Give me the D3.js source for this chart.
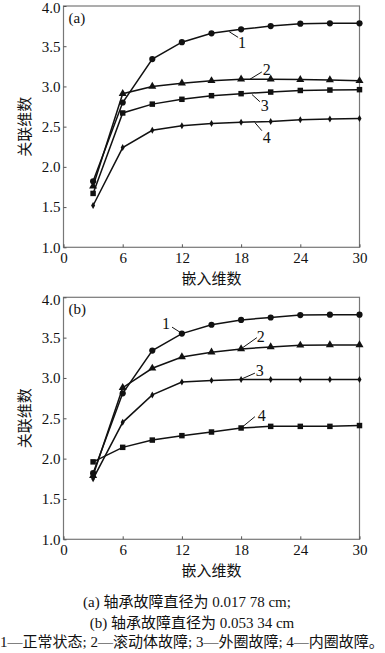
<!DOCTYPE html>
<html>
<head>
<meta charset="utf-8">
<script src="https://cdn.jsdelivr.net/npm/d3@7"></script>
<style>
  body { margin: 0; background: #fff; }
  svg { display: block; }
  text { font-family: "Liberation Serif", "Noto Sans CJK SC", serif; fill: #111; }
</style>
</head>
<body>
<div id="chart"></div>
<script>
// embedding dimension
const xVals = [3, 6, 9, 12, 15, 18, 21, 24, 27, 30];
const xTicks = [0, 6, 12, 18, 24, 30];
const yTicks = [1.0, 1.5, 2.0, 2.5, 3.0, 3.5, 4.0];

// (a) 0.017 78 cm
const a1 = [1.82, 2.80, 3.34, 3.55, 3.66, 3.71, 3.75, 3.78, 3.785, 3.785];
const a2 = [1.76, 2.91, 3.00, 3.04, 3.07, 3.09, 3.09, 3.085, 3.08, 3.07];
const a3 = [1.67, 2.67, 2.78, 2.84, 2.885, 2.91, 2.93, 2.95, 2.955, 2.96];
const a4 = [1.52, 2.24, 2.455, 2.51, 2.54, 2.555, 2.565, 2.585, 2.595, 2.60];

// (b) 0.053 34 cm
const b1 = [1.82, 2.81, 3.34, 3.55, 3.66, 3.72, 3.75, 3.78, 3.785, 3.785];
const b2 = [1.79, 2.88, 3.12, 3.26, 3.32, 3.36, 3.385, 3.405, 3.41, 3.41];
const b3 = [1.75, 2.45, 2.79, 2.95, 2.97, 2.98, 2.98, 2.98, 2.98, 2.98];
const b4 = [1.96, 2.14, 2.23, 2.285, 2.33, 2.38, 2.40, 2.40, 2.40, 2.41];

const captions = [
  "(a) 轴承故障直径为 0.017 78 cm;",
  "(b) 轴承故障直径为 0.053 34 cm",
  "1—正常状态; 2—滚动体故障; 3—外圈故障; 4—内圈故障。"
];

const W = 385, H = 653;
const svg = d3.select("#chart").append("svg")
  .attr("width", W).attr("height", H);

const left = 63.5, right = 359.5;

const x = d3.scaleLinear().domain([0, 30]).range([left, right]);

const symbols = {
  circle: d3.symbol().type(d3.symbolCircle).size(30),
  triangle: d3.symbol().type(d3.symbolTriangle).size(28),
  square: d3.symbol().type(d3.symbolSquare).size(30),
  star: d3.symbol().type(d3.symbolDiamond).size(14)
};

function drawPanel(top, bottom, series, tag, notes) {
  const y = d3.scaleLinear().domain([1, 4]).range([bottom, top]);
  const g = svg.append("g");

  // frame
  g.append("rect")
    .attr("x", left).attr("y", top)
    .attr("width", right - left).attr("height", bottom - top)
    .attr("fill", "none").attr("stroke", "#777").attr("stroke-width", 1.2);

  // axes with inward ticks
  const xa = g.append("g").attr("transform", `translate(0,${bottom})`)
    .call(d3.axisBottom(x).tickValues(xTicks).tickSize(-3).tickPadding(4).tickFormat(d3.format("d")));
  const ya = g.append("g").attr("transform", `translate(${left},0)`)
    .call(d3.axisLeft(y).tickValues(yTicks).tickSize(-3).tickPadding(3).tickFormat(d3.format(".1f")));
  [xa, ya].forEach(a => {
    a.select(".domain").remove();
    a.selectAll("line").attr("stroke", "#555");
    a.selectAll("text").style("font-size", "15px").attr("fill", "#111")
      .style("font-family", "Liberation Serif, serif");
  });
  xa.selectAll("text").attr("dy", "0.75em");
  // keep the top label inside the page
  ya.selectAll("text").filter(d => d === 4).attr("dy", "0.45em");

  const line = d3.line().x((d, i) => x(xVals[i])).y(d => y(d));

  series.forEach(s => {
    g.append("path").datum(s.values)
      .attr("d", line).attr("fill", "none")
      .attr("stroke", "#111").attr("stroke-width", 1.5);
    g.selectAll(null).data(s.values).enter().append("path")
      .attr("d", symbols[s.marker])
      .attr("transform", (d, i) => `translate(${x(xVals[i])},${y(d)})`)
      .attr("fill", "#111");
  });

  // series labels with leaders
  notes.forEach(n => {
    g.append("line")
      .attr("x1", x(n.x0)).attr("y1", y(n.y0))
      .attr("x2", x(n.x1)).attr("y2", y(n.y1))
      .attr("stroke", "#111").attr("stroke-width", 1);
    g.append("text").attr("x", x(n.tx)).attr("y", y(n.ty))
      .attr("text-anchor", "middle").attr("dy", "0.35em")
      .style("font-size", "16px").text(n.label);
  });

  g.append("text").attr("x", left + 5).attr("y", top + 12)
    .attr("dy", "0.3em").style("font-size", "15px").text(tag);

  g.append("text")
    .attr("transform", `translate(25,${(top + bottom) / 2}) rotate(-90)`)
    .attr("text-anchor", "middle").attr("dy", "0.35em")
    .style("font-size", "15px").style("font-family", "Noto Sans CJK SC")
    .text("关联维数");

  g.append("text").attr("x", (left + right) / 2).attr("y", bottom + 31)
    .attr("text-anchor", "middle").attr("dy", "0.35em")
    .style("font-size", "15px").style("font-family", "Noto Sans CJK SC")
    .text("嵌入维数");
}

drawPanel(6, 247.3, [
  { values: a1, marker: "circle" },
  { values: a2, marker: "triangle" },
  { values: a3, marker: "square" },
  { values: a4, marker: "star" }
], "(a)", [
  { label: "1", x0: 16.8, y0: 3.68, x1: 17.7, y1: 3.61, tx: 18.1, ty: 3.55 },
  { label: "2", x0: 18.9, y0: 3.09, x1: 20.1, y1: 3.18, tx: 20.6, ty: 3.21 },
  { label: "3", x0: 19.1, y0: 2.90, x1: 19.9, y1: 2.81, tx: 20.4, ty: 2.77 },
  { label: "4", x0: 19.4, y0: 2.55, x1: 20.1, y1: 2.45, tx: 20.6, ty: 2.37 }
]);

drawPanel(297.3, 539.3, [
  { values: b1, marker: "circle" },
  { values: b2, marker: "triangle" },
  { values: b3, marker: "star" },
  { values: b4, marker: "square" }
], "(b)", [
  { label: "1", x0: 11.0, y0: 3.63, x1: 11.9, y1: 3.56, tx: 10.4, ty: 3.68 },
  { label: "2", x0: 18.1, y0: 3.37, x1: 19.6, y1: 3.50, tx: 20.0, ty: 3.52 },
  { label: "3", x0: 18.1, y0: 2.99, x1: 19.4, y1: 3.06, tx: 19.9, ty: 3.09 },
  { label: "4", x0: 18.1, y0: 2.39, x1: 19.4, y1: 2.52, tx: 20.1, ty: 2.53 }
]);

svg.selectAll(".caption").data(captions).enter().append("text")
  .attr("class", "caption")
  .attr("x", (d, i) => i === 0 ? 187 : 192)
  .attr("y", (d, i) => [602, 623, 642][i])
  .attr("text-anchor", "middle").attr("dy", "0.35em")
  .style("font-size", "15px").attr("fill", "#222")
  .text(d => d);
</script>
</body>
</html>
